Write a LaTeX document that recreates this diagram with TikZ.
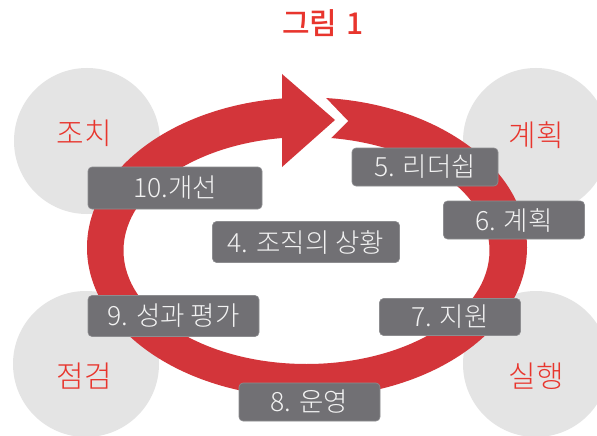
\documentclass[tikz,border=0pt]{standalone}
\usepackage{fontspec}
\setmainfont{Noto Sans CJK KR}
\newfontfamily\lightfont{Noto Sans CJK KR Light}
\newfontfamily\mediumfont{Noto Sans CJK KR Medium}
\definecolor{ringred}{HTML}{D3353A}
\definecolor{circgray}{HTML}{E4E4E4}
\definecolor{boxgray}{HTML}{717074}
\definecolor{boxtext}{HTML}{F2F2F2}
\definecolor{labelred}{HTML}{E8352D}
\tikzset{
  stagebox/.style={fill=boxgray, draw=boxgray!80!white, line width=0.6pt, rounded corners=4pt, text=boxtext,
    font=\lightfont\fontsize{26.5}{26.5}\selectfont, inner sep=0pt, anchor=center},
  phase/.style={text=labelred, font=\lightfont\fontsize{30}{30}\selectfont, inner sep=0pt},
  phasecirc/.style={fill=circgray, draw=none, circle, minimum size=146pt, inner sep=0pt}
}
\begin{document}
\begin{tikzpicture}[x=1pt,y=-1pt]
\useasboundingbox (0,0) rectangle (597,436);
\clip (0,0) rectangle (597,436);
\fill[white] (0,0) rectangle (597,436);
% gray phase circles
\node[phasecirc] (c1) at (87,141) {};
\node[phasecirc] (c2) at (536,141) {};
\node[phasecirc] (c3) at (86,364) {};
\node[phasecirc] (c4) at (536,364) {};
% ring
\fill[ringred, even odd rule] (307,247.5) ellipse [x radius=220pt, y radius=150pt]
  (306.5,250.5) ellipse [x radius=183pt, y radius=113.5pt];
% gap with chevron notch
\fill[white] (282,85) -- (313.5,85) -- (348,121) -- (319,150) -- (282,150) -- cycle;
% arrow head
\fill[ringred] (282,74) -- (335,120) -- (282,167) -- cycle;
% phase labels
\node[phase] (l1) at (84,133) {조치};
\node[phase] (l2) at (536,135) {계획};
\node[phase] (l3) at (84,376) {점검};
\node[phase] (l4) at (536,376) {실행};
% title
\node[text=labelred, font=\mediumfont\fontsize{30}{30}\selectfont, inner sep=0pt] (title) at (323,23) {그림\hspace{9pt}1};
% stage boxes
\node[stagebox, minimum width=174pt, minimum height=42pt] (b10) at (175,188) {10.개선};
\node[stagebox, minimum width=146pt, minimum height=38pt] (b5) at (425,167) {5. 리더쉽};
\node[stagebox, minimum width=141pt, minimum height=38pt] (b6) at (514,220) {6. 계획};
\node[stagebox, minimum width=187pt, minimum height=41pt] (b4) at (306,242) {4. 조직의 상황};
\node[stagebox, minimum width=171pt, minimum height=41pt] (b9) at (173.5,316) {9. 성과 평가};
\node[stagebox, minimum width=141pt, minimum height=37pt] (b7) at (450,317) {7. 지원};
\node[stagebox, minimum width=141pt, minimum height=38pt] (b8) at (309.5,402) {8. 운영};
\end{tikzpicture}
\end{document}
